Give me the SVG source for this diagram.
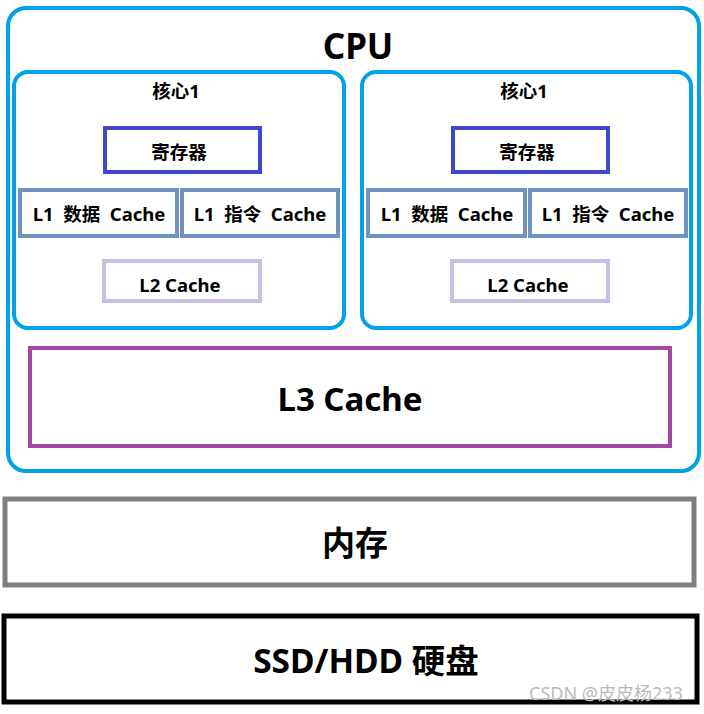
<svg xmlns="http://www.w3.org/2000/svg" width="704" height="714" viewBox="0 0 704 714">
<style>
text{font-family:"Noto Sans","Noto Sans CJK SC",sans-serif;font-weight:bold;fill:#000;text-anchor:middle;dominant-baseline:central}
.core{fill:#fff;stroke:#00a2e8;stroke-width:4}
.reg{fill:#fff;stroke:#3f48cc;stroke-width:4}
.l1{fill:#fff;stroke:#7092be;stroke-width:4}
.l2{fill:#fff;stroke:#c8bfe7;stroke-width:4}
.s{font-size:18.5px}
</style>
<rect width="704" height="714" fill="#fff"/>
<g id="cpu">
<rect class="core" x="8" y="8" width="691" height="463" rx="18"/>
<text x="358" y="45" font-size="35">CPU</text>
</g>
<g id="core1">
<rect class="core" x="14" y="72" width="330" height="256" rx="14"/>
<text class="s" x="176" y="90">核心1</text>
</g>
<g id="reg1"><rect class="reg" x="105" y="128" width="155" height="44"/><text class="s" x="179" y="151">寄存器</text></g>
<g id="l1d1"><rect class="l1" x="20" y="190" width="157" height="46"/><text class="s" x="99" y="213" xml:space="preserve">L1  数据  Cache</text></g>
<g id="l1i1"><rect class="l1" x="182" y="190" width="156" height="46"/><text class="s" x="260" y="213" xml:space="preserve">L1  指令  Cache</text></g>
<g id="l21"><rect class="l2" x="104" y="261" width="156" height="40"/><text class="s" x="180" y="284">L2 Cache</text></g>
<g id="core2">
<rect class="core" x="362" y="72" width="329" height="256" rx="14"/>
<text class="s" x="524" y="90">核心1</text>
</g>
<g id="reg2"><rect class="reg" x="453" y="128" width="155" height="44"/><text class="s" x="527" y="151">寄存器</text></g>
<g id="l1d2"><rect class="l1" x="368" y="190" width="157" height="46"/><text class="s" x="447" y="213" xml:space="preserve">L1  数据  Cache</text></g>
<g id="l1i2"><rect class="l1" x="530" y="190" width="156" height="46"/><text class="s" x="608" y="213" xml:space="preserve">L1  指令  Cache</text></g>
<g id="l22"><rect class="l2" x="452" y="261" width="156" height="40"/><text class="s" x="528" y="284">L2 Cache</text></g>
<g id="l3"><rect x="30" y="348" width="640" height="98" fill="#fff" stroke="#a349a4" stroke-width="4"/><text x="350" y="398" font-size="33">L3 Cache</text></g>
<g id="mem"><rect x="5" y="499" width="689" height="86" fill="#fff" stroke="#7f7f7f" stroke-width="5"/><text x="355" y="542" font-size="33">内存</text></g>
<g id="disk"><rect x="4" y="616" width="693" height="86" fill="#fff" stroke="#000" stroke-width="5"/><text x="366" y="660" font-size="33.5">SSD/HDD 硬盘</text></g>
<g id="connectors"/>
<text x="606" y="693" font-size="18" style="font-weight:normal;fill:#bbb">CSDN @皮皮杨233</text>
</svg>
